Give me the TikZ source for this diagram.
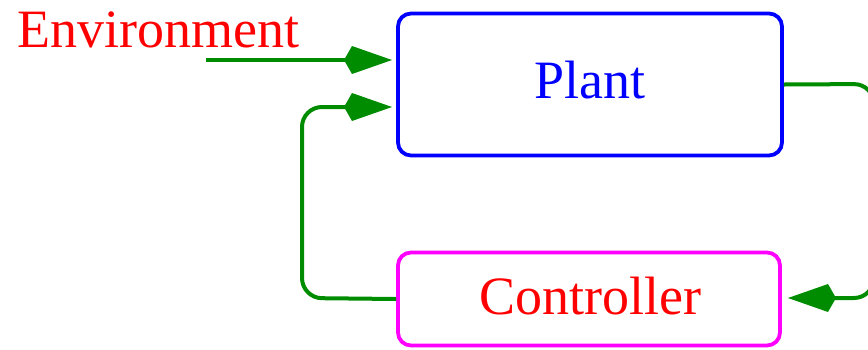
\documentclass[tikz,border=0pt]{standalone}
\usepackage{fontspec}
\setmainfont{Liberation Serif}
\usetikzlibrary{arrows.meta}
\definecolor{linkgreen}{RGB}{0,140,0}
\definecolor{ctrlmagenta}{RGB}{255,0,255}
\begin{document}
\begin{tikzpicture}[x=1pt,y=-1pt,
  box/.style={draw, line width=3.8pt, rounded corners=13pt, inner sep=0pt},
  link/.style={draw=linkgreen, line width=4pt, rounded corners=20pt,
    -{Kite[length=48pt 0, width=28pt 0, inset=8pt 0, fill=linkgreen]}},
  lbl/.style={font=\fontsize{54}{60}\selectfont, inner sep=0pt}]
\useasboundingbox (0,0) rectangle (868,349);
\node[box, draw=blue, minimum width=384pt, minimum height=142pt] (plant) at (590,84.5) {};
\node[lbl, text=blue] (plantlbl) at (590,80) {Plant};
\node[box, draw=ctrlmagenta, minimum width=382pt, minimum height=93pt] (ctrl) at (589,299) {};
\node[lbl, text=red] (ctrllbl) at (590,296) {Controller};
\node[lbl, text=red, anchor=base west] (env) at (17,47) {Environment};
\coordinate (envstart) at (206,60);
\coordinate (envend) at (392,60);
\coordinate (fbend) at (392,107);
\coordinate (rightturn) at (874,84);
\coordinate (ctrlin) at (788,298);
\draw[link, rounded corners=0pt] (envstart) -- (envend);
\draw[link] (ctrl.west) -- (302,298) -- (302,107) -- (fbend);
\draw[link] (plant.east) -- (rightturn) -- (874,298) -- (ctrlin);
\end{tikzpicture}
\end{document}
